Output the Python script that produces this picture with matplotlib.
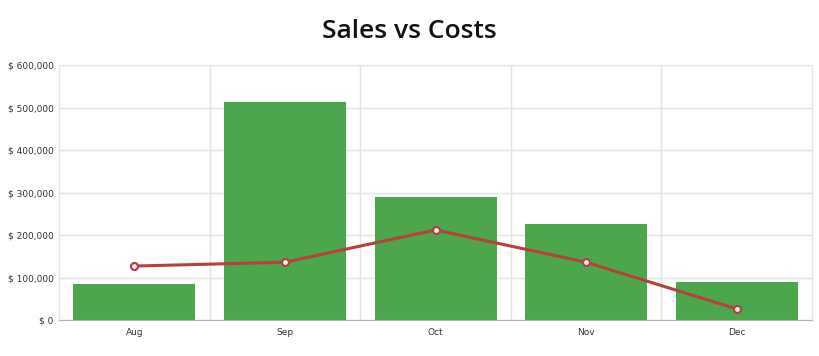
import numpy as np
import matplotlib
matplotlib.use('Agg')
import matplotlib.pyplot as plt
from matplotlib.ticker import FuncFormatter

months = ['Aug', 'Sep', 'Oct', 'Nov', 'Dec']
sales = [85000, 513000, 290000, 226000, 89000]
costs = [127000, 136000, 212000, 136000, 26000]

fig = plt.figure(figsize=(8.19, 3.56), dpi=100)
ax = fig.add_axes([0.072, 0.101, 0.9195, 0.7164])

x = np.arange(len(months)) + 0.5
ax.bar(x, sales, width=0.81, color='#4ca64c', zorder=2)
ax.plot(x, costs, color='#b5403d', linewidth=2.2, marker='o', markersize=5,
        markerfacecolor='white', markeredgecolor='#b5403d', markeredgewidth=1.6, zorder=3)

ax.set_xlim(0, len(months))
ax.set_ylim(0, 600000)
ax.set_yticks(np.arange(0, 600001, 100000))
ax.yaxis.set_major_formatter(FuncFormatter(lambda v, p: '$ {:,.0f}'.format(v)))
ax.set_xticks(np.arange(0, len(months) + 1), minor=False)
ax.set_xticklabels([])
ax.set_xticks(x, minor=True)
ax.set_xticklabels(months, minor=True)

ax.grid(True, axis='both', which='major', color='#e3e3e3', linewidth=1, zorder=0)
ax.tick_params(axis='both', which='both', length=0, labelsize=6.5, colors='#333333')
ax.tick_params(axis='x', which='minor', pad=6)
ax.tick_params(axis='y', pad=4)

for s in ['top', 'right', 'left']:
    ax.spines[s].set_color('#e3e3e3')
ax.spines['bottom'].set_color('#b0b0b0')

fig.text(0.5, 0.912, 'Sales vs Costs', ha='center', va='center', fontsize=19,
         family='Open Sans', fontweight='semibold', color='#111111')

fig.savefig('out.png', dpi=100)
